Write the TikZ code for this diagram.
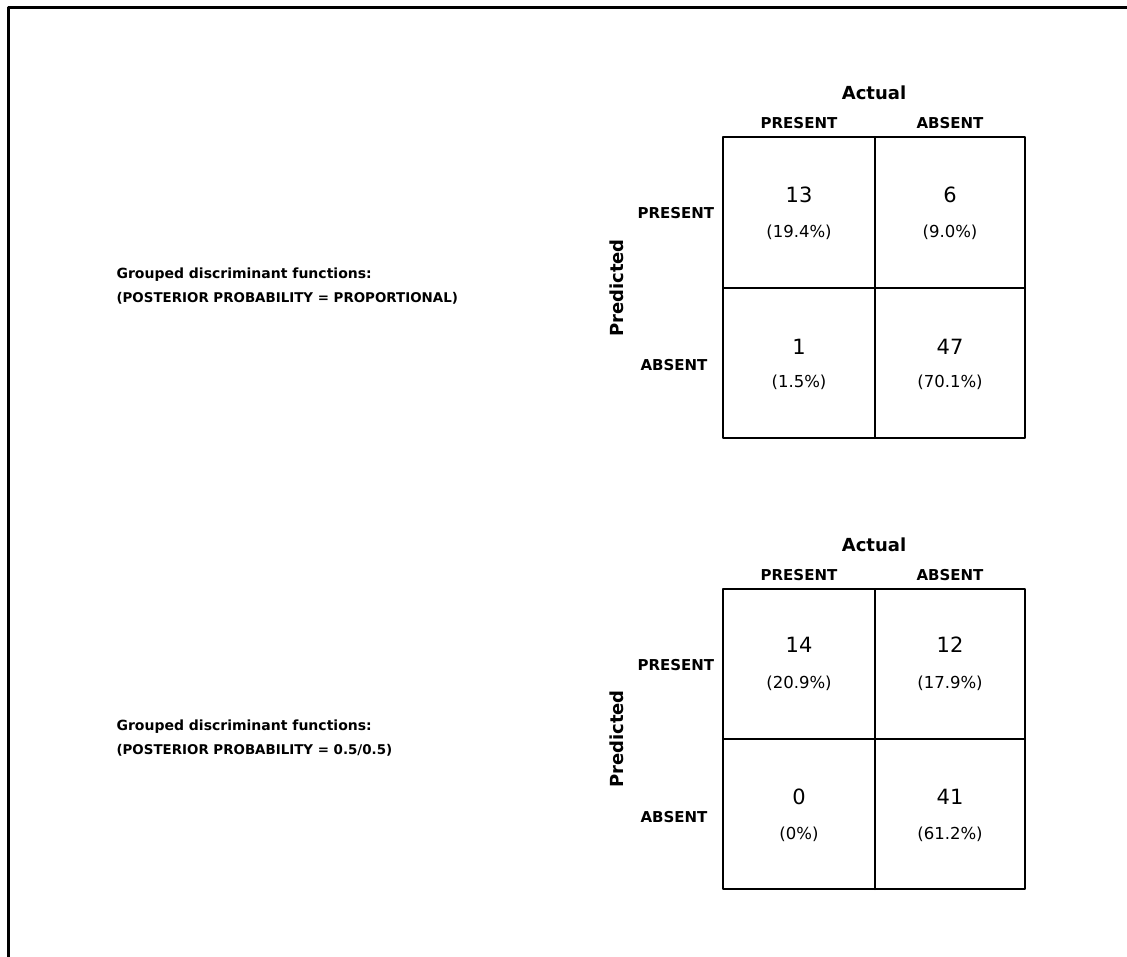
\documentclass[tikz,border=0pt]{standalone}
\usepackage{fontspec}
\setmainfont{DejaVu Sans}
\begin{document}
\begin{tikzpicture}[x=1pt,y=-1pt,line cap=round,line join=round,
  hd/.style={font=\fontsize{18}{20}\selectfont\bfseries},
  lab/.style={font=\fontsize{15}{17}\selectfont\bfseries},
  num/.style={font=\fontsize{21}{23}\selectfont},
  pct/.style={font=\fontsize{16.5}{18}\selectfont},
  ttl/.style={font=\fontsize{14}{16}\selectfont\bfseries,anchor=west},
  sub/.style={font=\fontsize{13.4}{15}\selectfont\bfseries,anchor=west},
  grid/.style={line width=2pt}]
\useasboundingbox (0,0) rectangle (1127,957);
\draw[line width=3pt] (8,957)--(8,8)--(1127,8);
% upper table
\draw[grid] (723,137) rectangle (1025,438);
\draw[grid] (875,137)--(875,438) (723,288)--(1025,288);
\node[hd] (act1) at (874,93) {Actual};
\node[lab] (colP1) at (799,123) {PRESENT};
\node[lab] (colA1) at (950,123) {ABSENT};
\node[lab,anchor=west] (rowP1) at (634,213) {PRESENT};
\node[lab,anchor=west] (rowA1) at (637,365) {ABSENT};
\node[hd,rotate=90] (pred1) at (617,288) {Predicted};
\node[num] (n11) at (799,195) {13};
\node[pct] (p11) at (799,232) {(19.4\%)};
\node[num] (n12) at (950,195) {6};
\node[pct] (p12) at (950,232) {(9.0\%)};
\node[num] (n21) at (799,347) {1};
\node[pct] (p21) at (799,382) {(1.5\%)};
\node[num] (n22) at (950,347) {47};
\node[pct] (p22) at (950,382) {(70.1\%)};
\node[ttl] (ttl1) at (113,275) {Grouped discriminant functions:};
\node[sub] (sub1) at (113,298) {(POSTERIOR PROBABILITY = PROPORTIONAL)};
% lower table
\draw[grid] (723,589) rectangle (1025,889);
\draw[grid] (875,589)--(875,889) (723,739)--(1025,739);
\node[hd] (act2) at (874,545) {Actual};
\node[lab] (colP2) at (799,575) {PRESENT};
\node[lab] (colA2) at (950,575) {ABSENT};
\node[lab,anchor=west] (rowP2) at (634,665) {PRESENT};
\node[lab,anchor=west] (rowA2) at (637,817) {ABSENT};
\node[hd,rotate=90] (pred2) at (617,739) {Predicted};
\node[num] (m11) at (799,645) {14};
\node[pct] (q11) at (799,683) {(20.9\%)};
\node[num] (m12) at (950,645) {12};
\node[pct] (q12) at (950,683) {(17.9\%)};
\node[num] (m21) at (799,797) {0};
\node[pct] (q21) at (799,834) {(0\%)};
\node[num] (m22) at (950,797) {41};
\node[pct] (q22) at (950,834) {(61.2\%)};
\node[ttl] (ttl2) at (113,727) {Grouped discriminant functions:};
\node[sub] (sub2) at (113,750) {(POSTERIOR PROBABILITY = 0.5/0.5)};
\end{tikzpicture}
\end{document}
